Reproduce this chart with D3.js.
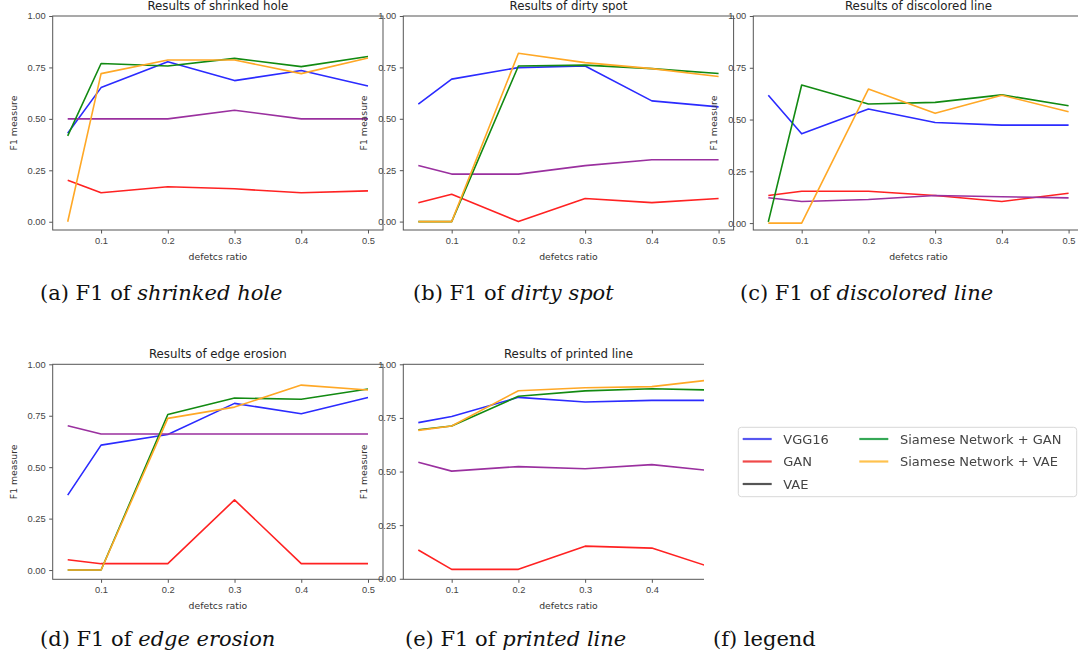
<!DOCTYPE html>
<html lang="en">
<head>
<meta charset="utf-8">
<title>F1 of defect types</title>
<script src="https://cdn.jsdelivr.net/npm/d3@7"></script>
<style>
  body { margin: 0; background: #fff; }
  svg { display: block; }
</style>
</head>
<body>
<script>
// defect ratio on the x axis
var ratios = [0.05, 0.1, 0.2, 0.3, 0.4, 0.5];
var xTicks = [0.1, 0.2, 0.3, 0.4, 0.5];
var yTicks = [0, 0.25, 0.5, 0.75, 1.0];
var methods = ["VGG16", "GAN", "VAE", "Siamese Network + GAN", "Siamese Network + VAE"];

// (a) shrinked hole
var holeVGG = [0.43, 0.652, 0.778, 0.686, 0.735, 0.66];
var holeGAN = [0.202, 0.141, 0.17, 0.16, 0.141, 0.15];
var holeVAE = [0.5, 0.5, 0.5, 0.542, 0.5, 0.5];
var holeSGAN = [0.417, 0.769, 0.757, 0.794, 0.754, 0.803];
var holeSVAE = [0.0, 0.72, 0.786, 0.786, 0.72, 0.796];

// (b) dirty spot
var spotVGG = [0.571, 0.693, 0.749, 0.757, 0.587, 0.558];
var spotGAN = [0.092, 0.133, 0.0, 0.112, 0.092, 0.112];
var spotVAE = [0.273, 0.231, 0.231, 0.272, 0.301, 0.301];
var spotSGAN = [0.0, 0.0, 0.757, 0.761, 0.744, 0.72];
var spotSVAE = [0.0, 0.0, 0.819, 0.773, 0.744, 0.706];

// (c) discolored line
var discVGG = [0.617, 0.431, 0.551, 0.486, 0.473, 0.473];
var discGAN = [0.133, 0.154, 0.154, 0.133, 0.104, 0.144];
var discVAE = [0.122, 0.104, 0.114, 0.133, 0.127, 0.122];
var discSGAN = [0.006, 0.667, 0.575, 0.583, 0.619, 0.567];
var discSVAE = [0.0, 0.0, 0.647, 0.53, 0.617, 0.538];

// (d) edge erosion
var edgeVGG = [0.364, 0.607, 0.659, 0.81, 0.76, 0.839];
var edgeGAN = [0.05, 0.031, 0.031, 0.341, 0.031, 0.031];
var edgeVAE = [0.701, 0.661, 0.661, 0.661, 0.661, 0.661];
var edgeSGAN = [0.0, 0.0, 0.756, 0.836, 0.83, 0.88];
var edgeSVAE = [0.0, 0.0, 0.737, 0.792, 0.899, 0.875];

// (e) printed line
var printVGG = [0.728, 0.757, 0.846, 0.824, 0.832, 0.832];
var printGAN = [0.134, 0.044, 0.044, 0.152, 0.143, 0.042];
var printVAE = [0.543, 0.502, 0.523, 0.513, 0.532, 0.5];
var printSGAN = [0.695, 0.712, 0.851, 0.876, 0.886, 0.879];
var printSVAE = [0.692, 0.712, 0.877, 0.891, 0.896, 0.932];

var lineColors = ["#2b2bff", "#ff2222", "#9a309f", "#128a12", "#ffa826"];
var legendColors = ["#5656f0", "#f04848", "#555555", "#35a856", "#ffc24e"];

var panels = [
  { title: "Results of shrinked hole", series: [holeVGG, holeGAN, holeVAE, holeSGAN, holeSVAE],
    left: 52.7, top: 16, h: 214, clipW: null, label: "(a) F1 of ", name: "shrinked hole", capX: 40, capY: 300 },
  { title: "Results of dirty spot", series: [spotVGG, spotGAN, spotVAE, spotSGAN, spotSVAE],
    left: 403.3, top: 16, h: 214, clipW: null, label: "(b) F1 of ", name: "dirty spot", capX: 413, capY: 300 },
  { title: "Results of discolored line", series: [discVGG, discGAN, discVAE, discSGAN, discSVAE],
    left: 753.3, top: 16, h: 214, clipW: null, label: "(c) F1 of ", name: "discolored line", capX: 740, capY: 300 },
  { title: "Results of edge erosion", series: [edgeVGG, edgeGAN, edgeVAE, edgeSGAN, edgeSVAE],
    left: 52.7, top: 364.3, h: 215, clipW: null, label: "(d) F1 of ", name: "edge erosion", capX: 40, capY: 646 },
  { title: "Results of printed line", series: [printVGG, printGAN, printVAE, printSGAN, printSVAE],
    left: 403.3, top: 364.3, h: 215, clipW: 300.7, label: "(e) F1 of ", name: "printed line", capX: 405, capY: 646 }
];

var w = 1078, h = 657;
var pw = 330.3;

var svg = d3.select("body").append("svg")
  .attr("width", w)
  .attr("height", h)
  .style("font-family", "'DejaVu Sans', sans-serif");

var defs = svg.append("defs");
defs.append("filter").attr("id", "soft")
  .append("feGaussianBlur").attr("stdDeviation", 0.45);

var line = d3.line();

panels.forEach(function(p, i) {
  var all = d3.merge(p.series);
  var lo = d3.min(all), hi = d3.max(all);
  var x = d3.scaleLinear().domain([0.0275, 0.5225]).range([0, pw]);
  var y = d3.scaleLinear().domain([lo - 0.05 * (hi - lo), 1.0]).range([p.h, 0]);

  var g = svg.append("g").attr("transform", "translate(" + p.left + "," + p.top + ")");

  // plot area clip (and right-hand crop for the last panel)
  var cw = p.clipW == null ? pw : p.clipW;
  defs.append("clipPath").attr("id", "plot" + i)
    .append("rect").attr("x", 0).attr("y", 0).attr("width", cw).attr("height", p.h);
  defs.append("clipPath").attr("id", "crop" + i)
    .append("rect").attr("x", -80).attr("y", -30).attr("width", cw + 80).attr("height", p.h + 60);

  var frame = g.append("g").attr("clip-path", p.clipW == null ? null : "url(#crop" + i + ")");

  var xAxis = frame.append("g").attr("transform", "translate(0," + p.h + ")")
    .call(d3.axisBottom(x).tickValues(xTicks).tickFormat(d3.format(".1f")).tickSize(3.5).tickPadding(3.5));
  var yAxis = frame.append("g")
    .call(d3.axisLeft(y).tickValues(yTicks).tickFormat(d3.format(".2f")).tickSize(3.5).tickPadding(3.5));
  [xAxis, yAxis].forEach(function(a) {
    a.select(".domain").remove();
    a.selectAll("line").attr("stroke", "#555");
    a.selectAll("text").attr("fill", "#444").style("font-size", "9.3px");
  });

  // spines
  frame.append("rect")
    .attr("x", 0).attr("y", 0).attr("width", pw).attr("height", p.h)
    .attr("fill", "none").attr("stroke", "#555").attr("stroke-width", 1);

  frame.append("g").attr("clip-path", "url(#plot" + i + ")")
    .selectAll("path.series")
    .data(p.series)
    .enter().append("path")
    .attr("class", "series")
    .attr("fill", "none")
    .attr("stroke", function(d, k) { return lineColors[k]; })
    .attr("stroke-width", 1.6)
    .attr("stroke-linejoin", "round")
    .attr("d", function(d) {
      return line(d.map(function(v, k) { return [x(ratios[k]), y(v)]; }));
    });

  g.append("text")
    .attr("x", pw / 2).attr("y", -6)
    .attr("text-anchor", "middle")
    .attr("fill", "#222")
    .style("font-size", "11.8px")
    .text(p.title);

  g.append("text")
    .attr("x", x(0.275)).attr("y", p.h + 30)
    .attr("text-anchor", "middle")
    .attr("fill", "#333")
    .style("font-size", "9.3px")
    .text("defetcs ratio");

  g.append("text")
    .attr("transform", "translate(-36," + (p.h / 2) + ") rotate(-90)")
    .attr("text-anchor", "middle")
    .attr("fill", "#333")
    .style("font-size", "9.3px")
    .text("F1 measure");

  var cap = svg.append("text")
    .attr("x", p.capX).attr("y", p.capY)
    .attr("fill", "#111")
    .style("font-family", "'DejaVu Serif', serif")
    .style("font-size", "21px");
  cap.append("tspan").text(p.label);
  cap.append("tspan").style("font-style", "italic").text(p.name);
});

svg.append("text")
  .attr("x", 713).attr("y", 646)
  .attr("fill", "#111")
  .style("font-family", "'DejaVu Serif', serif")
  .style("font-size", "21px")
  .text("(f) legend");

// legend
var lg = svg.append("g").attr("transform", "translate(738.3,427.3)").attr("filter", "url(#soft)");
lg.append("rect")
  .attr("width", 338.4).attr("height", 69.4).attr("rx", 3)
  .attr("fill", "#fff").attr("stroke", "#d8d8d8");
var items = lg.selectAll("g.item")
  .data(methods)
  .enter().append("g")
  .attr("class", "item")
  .attr("transform", function(d, k) {
    var col = k < 3 ? 0 : 1, row = k < 3 ? k : k - 3;
    return "translate(" + (col ? 121 : 4.4) + "," + (11.7 + row * 22.5) + ")";
  });
items.append("line")
  .attr("x1", 0).attr("x2", 29)
  .attr("stroke", function(d, k) { return legendColors[k]; })
  .attr("stroke-width", 2.2);
items.append("text")
  .attr("x", 40.6).attr("dy", "0.35em")
  .attr("fill", "#444")
  .style("font-size", "13px")
  .text(function(d) { return d; });
</script>
</body>
</html>
